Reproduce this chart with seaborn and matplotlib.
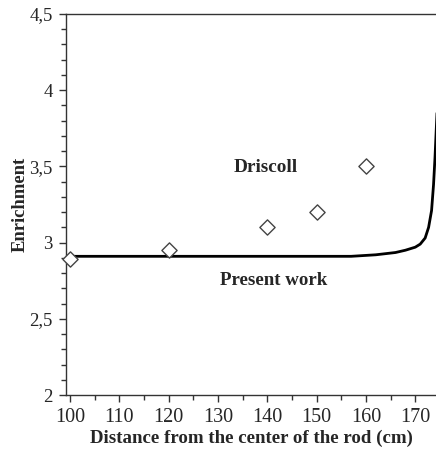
import matplotlib
matplotlib.use("Agg")
import matplotlib.pyplot as plt
from matplotlib.ticker import MultipleLocator, FuncFormatter
import seaborn as sns
import pandas as pd

# Present work: computed enrichment profile
distance_model = [100, 157, 162, 166, 168, 170, 171, 172, 172.7, 173.3, 173.7, 174.0, 174.4]
enrich_model = [2.91, 2.91, 2.92, 2.935, 2.95, 2.97, 2.99, 3.03, 3.10, 3.21, 3.38, 3.56, 3.85]

# Driscoll measurements
distance_driscoll = [100, 120, 140, 150, 160]
enrich_driscoll = [2.89, 2.95, 3.10, 3.20, 3.50]

model = pd.DataFrame({"d": distance_model, "e": enrich_model})
driscoll = pd.DataFrame({"d": distance_driscoll, "e": enrich_driscoll})

sns.set_style("white")
plt.rcParams["font.family"] = ["Liberation Serif", "DejaVu Serif"]

fig = plt.figure(figsize=(4.36, 4.49), dpi=100)
ax = fig.add_axes([66 / 436, 54 / 449, 1 - 66 / 436, (395 - 14) / 449])

sns.lineplot(data=model, x="d", y="e", color="black", linewidth=2.0,
             sort=False, ax=ax)
sns.scatterplot(data=driscoll, x="d", y="e", marker="D", s=60,
                facecolor="white", edgecolor="#444444", linewidth=1.0,
                ax=ax, clip_on=False, zorder=3)

ax.set_xlim(99.2, 174.2)
ax.set_ylim(2.0, 4.5)

ax.xaxis.set_major_locator(MultipleLocator(10))
ax.xaxis.set_minor_locator(MultipleLocator(5))
ax.yaxis.set_major_locator(MultipleLocator(0.5))
ax.yaxis.set_minor_locator(MultipleLocator(0.1))
ax.yaxis.set_major_formatter(FuncFormatter(lambda v, p: f"{v:g}".replace(".", ",")))

ax.tick_params(which="major", direction="out", length=5, width=1,
               color="#333333", bottom=True, left=True)
ax.tick_params(axis="x", which="major", pad=4, labelsize=14.5)
ax.tick_params(axis="y", which="major", pad=4.5, labelsize=13.5)
ax.tick_params(which="minor", direction="out", length=3.5, width=1,
               color="#333333", bottom=True, left=True)

for side in ["left", "bottom", "top"]:
    ax.spines[side].set_color("#333333")
    ax.spines[side].set_linewidth(1.0)
ax.spines["right"].set_visible(False)

ax.set_xlabel("Distance from the center of the rod (cm)", fontsize=13.6,
              fontweight="bold", labelpad=2.5)
ax.set_ylabel("Enrichment", fontsize=13.4, fontweight="bold", labelpad=0.5)

ax.text(139.7, 3.49, "Driscoll", fontsize=13.9, fontweight="bold",
        ha="center", va="center")
ax.text(141.3, 2.75, "Present work", fontsize=13.6, fontweight="bold",
        ha="center", va="center")

fig.savefig("out.png", dpi=100)
